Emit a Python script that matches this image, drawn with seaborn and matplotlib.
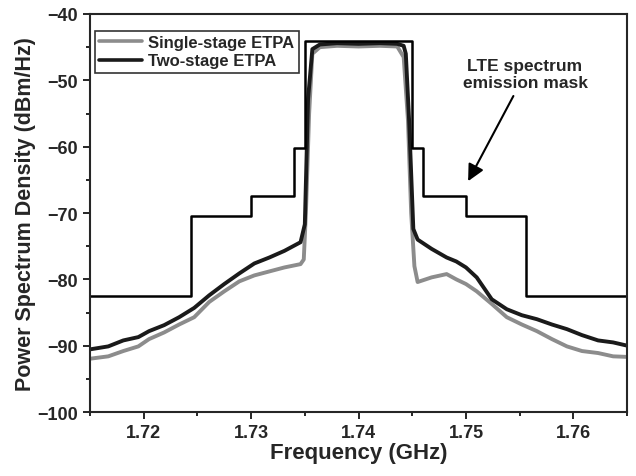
import pandas as pd
import matplotlib
matplotlib.use("Agg")
import matplotlib.pyplot as plt
from matplotlib.ticker import MultipleLocator
import seaborn as sns

# PSD traces (GHz, dBm/Hz)
single_f = [1.7148, 1.7167, 1.7181, 1.7195, 1.7205, 1.7219, 1.7233, 1.7247, 1.7261,
            1.7275, 1.7289, 1.7303, 1.7317, 1.7331, 1.7346, 1.7349, 1.7351, 1.7354,
            1.7357, 1.7364, 1.7380, 1.7400, 1.7420, 1.7436, 1.7442, 1.7446, 1.7449,
            1.7452, 1.7455, 1.7468, 1.7482, 1.7491, 1.7500, 1.7510, 1.7524, 1.7538,
            1.7552, 1.7566, 1.7580, 1.7594, 1.7608, 1.7623, 1.7637, 1.7653]
single_db = [-92.0, -91.6, -90.8, -90.1, -89.0, -88.0, -86.8, -85.7, -83.4,
             -81.8, -80.3, -79.4, -78.8, -78.2, -77.7, -77.0, -70.0, -55.0,
             -46.0, -45.0, -44.8, -44.9, -44.8, -44.9, -46.5, -56.0, -70.0,
             -78.0, -80.4, -79.7, -79.2, -80.0, -80.7, -81.8, -83.7, -85.7,
             -86.8, -87.8, -89.0, -90.1, -90.8, -91.1, -91.6, -91.7]

two_f = [1.7148, 1.7167, 1.7181, 1.7195, 1.7205, 1.7219, 1.7233, 1.7247, 1.7261,
         1.7275, 1.7289, 1.7303, 1.7317, 1.7331, 1.7346, 1.7350, 1.7353, 1.7357,
         1.7364, 1.7380, 1.7400, 1.7420, 1.7436, 1.7442, 1.7444, 1.7447, 1.7451,
         1.7455, 1.7468, 1.7482, 1.7491, 1.7500, 1.7510, 1.7524, 1.7538, 1.7552,
         1.7566, 1.7580, 1.7594, 1.7608, 1.7623, 1.7637, 1.7653]
two_db = [-90.6, -90.1, -89.2, -88.7, -87.8, -86.9, -85.7, -84.3, -82.4,
          -80.7, -79.1, -77.6, -76.7, -75.7, -74.4, -71.7, -52.8, -45.3,
          -44.6, -44.4, -44.5, -44.4, -44.5, -44.8, -46.0, -55.8, -72.4,
          -74.0, -75.4, -76.7, -77.3, -78.2, -79.7, -83.0, -84.5, -85.4,
          -86.0, -86.8, -87.5, -88.4, -89.2, -89.5, -90.1]

# LTE spectrum emission mask (step edges and levels)
mask_f = [1.715, 1.7244, 1.730, 1.734, 1.735, 1.745, 1.746, 1.750, 1.7556, 1.765]
mask_db = [-82.5, -70.5, -67.5, -60.2, -44.0, -60.2, -67.5, -70.5, -82.5, -82.5]

sns.set_style("ticks")
plt.rcParams["font.family"] = ["Liberation Sans", "DejaVu Sans"]
plt.rcParams["font.weight"] = "bold"

fig = plt.figure(figsize=(6.36, 4.77), dpi=100)
ax = fig.add_axes([0.1415, 0.134, 0.8445, 0.8346])

single = pd.DataFrame({"f": single_f, "psd": single_db})
two = pd.DataFrame({"f": two_f, "psd": two_db})
mask = pd.DataFrame({"f": mask_f, "psd": mask_db})

sns.lineplot(data=single, x="f", y="psd", sort=False, color="#8c8c8c", lw=2.8,
             label="Single-stage ETPA", ax=ax)
sns.lineplot(data=two, x="f", y="psd", sort=False, color="#1a1a1a", lw=2.8,
             label="Two-stage ETPA", ax=ax)
sns.lineplot(data=mask, x="f", y="psd", sort=False, color="black", lw=1.8,
             drawstyle="steps-post", ax=ax)

ax.set_xlim(1.715, 1.765)
ax.set_ylim(-100, -40)
ax.xaxis.set_major_locator(MultipleLocator(0.01))
ax.xaxis.set_minor_locator(MultipleLocator(0.005))
ax.yaxis.set_major_locator(MultipleLocator(10))
ax.yaxis.set_minor_locator(MultipleLocator(5))
ax.tick_params(which="major", direction="out", length=5, width=1.4, labelsize=13)
ax.tick_params(which="minor", direction="out", length=3, width=1.4)
for lab in ax.get_xticklabels() + ax.get_yticklabels():
    lab.set_fontweight("bold")
for s in ax.spines.values():
    s.set_visible(True)
    s.set_linewidth(1.5)

ax.set_xlabel("Frequency (GHz)", fontsize=16, fontweight="bold", labelpad=1)
ax.set_ylabel("Power Spectrum Density (dBm/Hz)", fontsize=15.5, fontweight="bold", labelpad=1)

leg = ax.legend(loc="upper left", bbox_to_anchor=(0.0, 0.97), fontsize=12,
                frameon=True, fancybox=False, handlelength=2.6, handletextpad=0.35,
                borderpad=0.25, labelspacing=0.2, borderaxespad=0.3)
leg.get_frame().set_edgecolor("black")
leg.get_frame().set_linewidth(1.2)
for t in leg.get_texts():
    t.set_fontweight("bold")
for h in leg.get_lines():
    h.set_linewidth(2.6)

ax.annotate("LTE spectrum\nemission mask", xy=(1.7502, -65.2), xytext=(1.7555, -51.5),
            ha="center", va="bottom", fontsize=12.5, fontweight="bold",
            arrowprops=dict(arrowstyle="-|>,head_length=0.8,head_width=0.4",
                            color="black", lw=1.5, shrinkA=2, shrinkB=0))

plt.savefig("out.png", dpi=100)
